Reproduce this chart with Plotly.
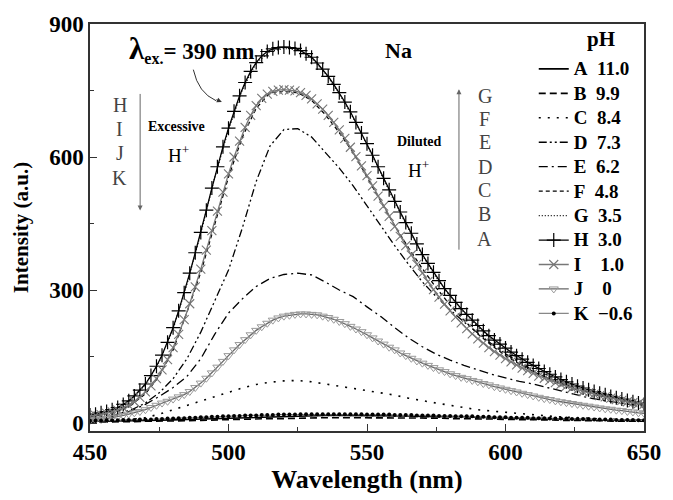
import plotly.graph_objects as go

# ---------------- data ----------------
wl2 = list(range(450, 651, 2))   # wavelength grid for marker curves (nm)
wl5 = list(range(450, 651, 5))   # wavelength grid for line-only curves (nm)

letters = ["A", "B", "C", "D", "E", "F", "G", "H", "I", "J", "K"]
ph_values = ["11.0", "9.9", "8.4", "7.3", "6.2", "4.8", "3.5", "3.0", "1.0", "0", "\u22120.6"]

A_vals = [4, 4, 5, 5, 6, 6, 7, 8, 9, 10,
          11, 12, 13, 14, 15, 16, 16, 17, 17, 17,
          17, 17, 16, 16, 15, 15, 14, 14, 13, 12,
          12, 11, 10, 10, 9, 8, 8, 7, 7, 6,
          6]
B_vals = [2, 2, 3, 3, 4, 4, 5, 5, 6, 7,
          8, 8, 9, 10, 10, 11, 11, 12, 12, 12,
          12, 12, 12, 11, 11, 11, 10, 10, 9, 9,
          8, 8, 7, 7, 6, 6, 5, 5, 4, 4,
          4]
C_vals = [2, 3, 5, 8, 12, 20, 30, 40, 50, 60,
          70, 79, 87, 92, 95, 96, 93, 88, 83, 78,
          73, 68, 63, 56, 50, 45, 40, 35, 30, 27,
          24, 21, 18, 16, 14, 12, 10, 9, 8, 7,
          6]
D_vals = [10, 14, 20, 30, 45, 68, 100, 145, 205, 275,
          345, 440, 545, 625, 662, 664, 645, 610, 575, 535,
          490, 445, 400, 358, 318, 285, 255, 228, 202, 178,
          156, 136, 118, 102, 90, 79, 69, 61, 54, 48,
          42]
E_vals = [8, 12, 18, 28, 42, 60, 80, 105, 145, 200,
          248, 280, 308, 326, 335, 338, 334, 318, 300, 285,
          262, 240, 215, 192, 172, 155, 142, 130, 120, 110,
          102, 94, 88, 80, 72, 64, 57, 51, 46, 42,
          38]
F_vals = [15, 19, 27, 41, 66, 106, 165, 250, 340, 450,
          555, 645, 710, 745, 748, 745, 728, 695, 655, 610,
          555, 500, 445, 395, 348, 305, 266, 232, 201, 175,
          152, 133, 116, 101, 88, 77, 68, 60, 53, 47,
          41]
G_vals = [17, 22, 34, 54, 87, 138, 212, 313, 428, 553,
          662, 752, 812, 838, 845, 841, 823, 788, 743, 688,
          628, 562, 498, 438, 378, 328, 286, 249, 217, 189,
          165, 144, 126, 109, 95, 83, 72, 63, 55, 48,
          42]
H_vals = [18, 20, 23, 26, 30, 35, 42, 50, 61, 74,
          88, 107, 128, 153, 182, 215, 253, 294, 338, 384,
          430, 480, 530, 578, 623, 665, 703, 738, 768, 793,
          813, 828, 838, 844, 847, 848, 847, 845, 840, 833,
          825, 812, 798, 782, 764, 745, 724, 702, 678, 654,
          630, 604, 578, 552, 526, 500, 476, 452, 428, 404,
          380, 360, 340, 321, 303, 288, 272, 258, 245, 232,
          220, 208, 197, 187, 178, 169, 160, 152, 144, 137,
          130, 123, 116, 110, 104, 98, 93, 88, 83, 79,
          75, 71, 67, 64, 60, 57, 54, 51, 48, 45,
          42]
I_vals = [16, 17, 19, 22, 25, 29, 34, 40, 48, 58,
          70, 84, 100, 120, 143, 170, 200, 233, 269, 307,
          347, 390, 434, 478, 521, 562, 600, 636, 667, 694,
          716, 732, 742, 748, 751, 752, 751, 749, 745, 739,
          731, 720, 708, 694, 678, 661, 642, 622, 601, 580,
          558, 535, 512, 489, 466, 443, 421, 400, 379, 358,
          338, 319, 301, 284, 268, 253, 239, 226, 213, 201,
          190, 180, 170, 161, 153, 145, 138, 131, 124, 118,
          112, 106, 101, 96, 91, 87, 83, 79, 75, 71,
          68, 65, 62, 59, 56, 53, 51, 48, 46, 44,
          42]
J_vals = [6, 7, 8, 10, 12, 14, 17, 20, 23, 26,
          30, 35, 40, 45, 49, 54, 59, 64, 71, 80,
          90, 101, 113, 126, 139, 152, 165, 177, 188, 199,
          209, 217, 225, 232, 237, 241, 243, 245, 246, 246,
          245, 244, 241, 238, 234, 229, 224, 218, 212, 206,
          199, 192, 185, 178, 171, 165, 158, 152, 146, 140,
          135, 130, 125, 120, 116, 111, 107, 103, 100, 96,
          93, 89, 86, 82, 79, 76, 73, 70, 67, 64,
          61, 58, 55, 53, 50, 48, 46, 44, 42, 40,
          38, 36, 34, 32, 31, 29, 28, 26, 25, 23,
          22]
K_vals = [5, 5, 5, 6, 6, 6, 7, 7, 7, 8,
          8, 8, 9, 9, 10, 10, 11, 11, 12, 12,
          13, 13, 14, 14, 15, 15, 16, 16, 17, 17,
          17, 18, 18, 18, 19, 19, 19, 19, 20, 20,
          20, 20, 20, 20, 20, 20, 20, 20, 20, 20,
          19, 19, 19, 19, 19, 18, 18, 18, 18, 17,
          17, 17, 17, 16, 16, 16, 15, 15, 15, 15,
          14, 14, 14, 13, 13, 13, 12, 12, 12, 12,
          11, 11, 11, 10, 10, 10, 10, 9, 9, 9,
          9, 8, 8, 8, 8, 7, 7, 7, 7, 6,
          6]

# ---------------- figure ----------------
SERIF = "Liberation Serif"
fig = go.Figure()

def label(i):
    sp = "\u00a0\u00a0" if letters[i] not in ("I", "J") else "\u00a0\u00a0\u00a0\u00a0"
    return "<span style='font-size:19px'><b>%s%s%s</b></span>" % (letters[i], sp, ph_values[i])

line_specs = [
    (A_vals, dict(color="black", width=1.6, dash="solid")),
    (B_vals, dict(color="black", width=1.6, dash="7px,4px")),
    (C_vals, dict(color="black", width=1.6, dash="2px,7px")),
    (D_vals, dict(color="black", width=1.3, dash="8px,3px,2px,3px,2px,3px")),
    (E_vals, dict(color="black", width=1.3, dash="9px,4px,2px,4px")),
    (F_vals, dict(color="black", width=1.3, dash="4px,3px")),
    (G_vals, dict(color="black", width=1.2, dash="1px,2px")),
]
for i, (vals, ln) in enumerate(line_specs):
    fig.add_trace(go.Scatter(x=wl5, y=vals, mode="lines", line=ln, name=label(i)))

fig.add_trace(go.Scatter(x=wl2, y=H_vals, mode="lines+markers", name=label(7),
                         line=dict(color="black", width=1.3),
                         marker=dict(symbol="cross-thin-open", size=10,
                                     line=dict(color="black", width=1.2))))
fig.add_trace(go.Scatter(x=wl2, y=I_vals, mode="lines+markers", name=label(8),
                         line=dict(color="#777777", width=1.3),
                         marker=dict(symbol="x-thin-open", size=9,
                                     line=dict(color="#999999", width=1.1))))
fig.add_trace(go.Scatter(x=wl2, y=J_vals, mode="lines+markers", name=label(9),
                         line=dict(color="#666666", width=1.3),
                         marker=dict(symbol="triangle-down-open", size=8, color="#999999",
                                     line=dict(color="#999999", width=1))))
fig.add_trace(go.Scatter(x=wl2, y=K_vals, mode="lines+markers", name=label(10),
                         line=dict(color="#888888", width=1.3),
                         marker=dict(symbol="circle", size=4, color="black")))

annotations = [
    dict(x=463.2, y=843, text="<b><span style='font-size:31px'>λ</span><sub>ex.</sub>= 390 nm</b>",
         xanchor="left", yanchor="middle", font=dict(size=23)),
    dict(x=561.2, y=841, text="<b>Na</b>", font=dict(size=22)),
    dict(x=634.5, y=866, text="<b>pH</b>", font=dict(size=21)),
    dict(x=481.3, y=668, text="<b>Excessive</b>", font=dict(size=14)),
    dict(x=482, y=607, text="H<sup>+</sup>", font=dict(size=19)),
    dict(x=569, y=635, text="<b>Diluted</b>", font=dict(size=14)),
    dict(x=568.6, y=573, text="H<sup>+</sup>", font=dict(size=19)),
]
for t, yv in zip(["H", "I", "J", "K"], [718, 663.5, 608.7, 551.8]):
    annotations.append(dict(x=460.7, y=yv, text=t, font=dict(size=20, color="#444444")))
for t, yv in zip(["G", "F", "E", "D", "C", "B", "A"], [738, 685.3, 632.8, 578, 525.5, 470.8, 416]):
    annotations.append(dict(x=592.5, y=yv, text=t, font=dict(size=20, color="#444444")))
# vertical arrows
annotations.append(dict(x=468.1, y=479.5, ax=0, ay=-118, showarrow=True, text="",
                        arrowhead=2, arrowsize=1, arrowwidth=1, arrowcolor="#666666"))
annotations.append(dict(x=583.2, y=753, ax=0, ay=162, showarrow=True, text="",
                        arrowhead=2, arrowsize=1, arrowwidth=1, arrowcolor="#666666"))
# curved arrow head
annotations.append(dict(x=497.6, y=724, ax=-7, ay=-3, showarrow=True, text="",
                        arrowhead=2, arrowsize=1, arrowwidth=1, arrowcolor="#333333"))
for a in annotations:
    a.setdefault("showarrow", False)
    a.setdefault("xref", "x")
    a.setdefault("yref", "y")
    f = a.setdefault("font", {})
    f.setdefault("family", SERIF)
    f.setdefault("color", "black")

fig.update_layout(
    width=673, height=500,
    margin=dict(l=90, r=20, t=20, b=60),
    paper_bgcolor="white", plot_bgcolor="white",
    font=dict(family=SERIF, color="black"),
    annotations=annotations,
    shapes=[dict(type="path", xref="x", yref="y",
                 path="M 487.3 797 Q 489.1 744.5 495.5 727",
                 line=dict(color="#333333", width=1))],
    legend=dict(x=0.801, y=0.932, xanchor="left", yanchor="top",
                bgcolor="rgba(0,0,0,0)", font=dict(family=SERIF, size=16.5, color="black"),
                tracegroupgap=0, itemwidth=30),
    showlegend=True,
)
fig.update_xaxes(range=[450, 650], tickvals=[450, 500, 550, 600, 650],
                 ticks="inside", ticklen=7, tickwidth=1.2, tickcolor="#333",
                 minor=dict(dtick=25, ticks="inside", ticklen=4, tickcolor="#333"),
                 showline=True, linecolor="#333", linewidth=1.5, mirror=True,
                 showgrid=False, zeroline=False,
                 tickfont=dict(family=SERIF, size=23, color="black", weight="bold"),
                 title=dict(text="<b>Wavelength (nm)</b>", standoff=4,
                            font=dict(family=SERIF, size=26, color="black")))
fig.update_yaxes(range=[-18, 900], tickvals=[0, 300, 600, 900],
                 ticks="inside", ticklen=7, tickwidth=1.2, tickcolor="#333",
                 minor=dict(tickvals=[150, 450, 750], ticks="inside", ticklen=4, tickcolor="#333"),
                 showline=True, linecolor="#333", linewidth=1.5, mirror=True,
                 showgrid=False, zeroline=False,
                 tickfont=dict(family=SERIF, size=23, color="black", weight="bold"),
                 title=dict(text="<b>Intensity (a.u.)</b>", standoff=15,
                            font=dict(family=SERIF, size=21, color="black")))

fig.write_html("out.html")
